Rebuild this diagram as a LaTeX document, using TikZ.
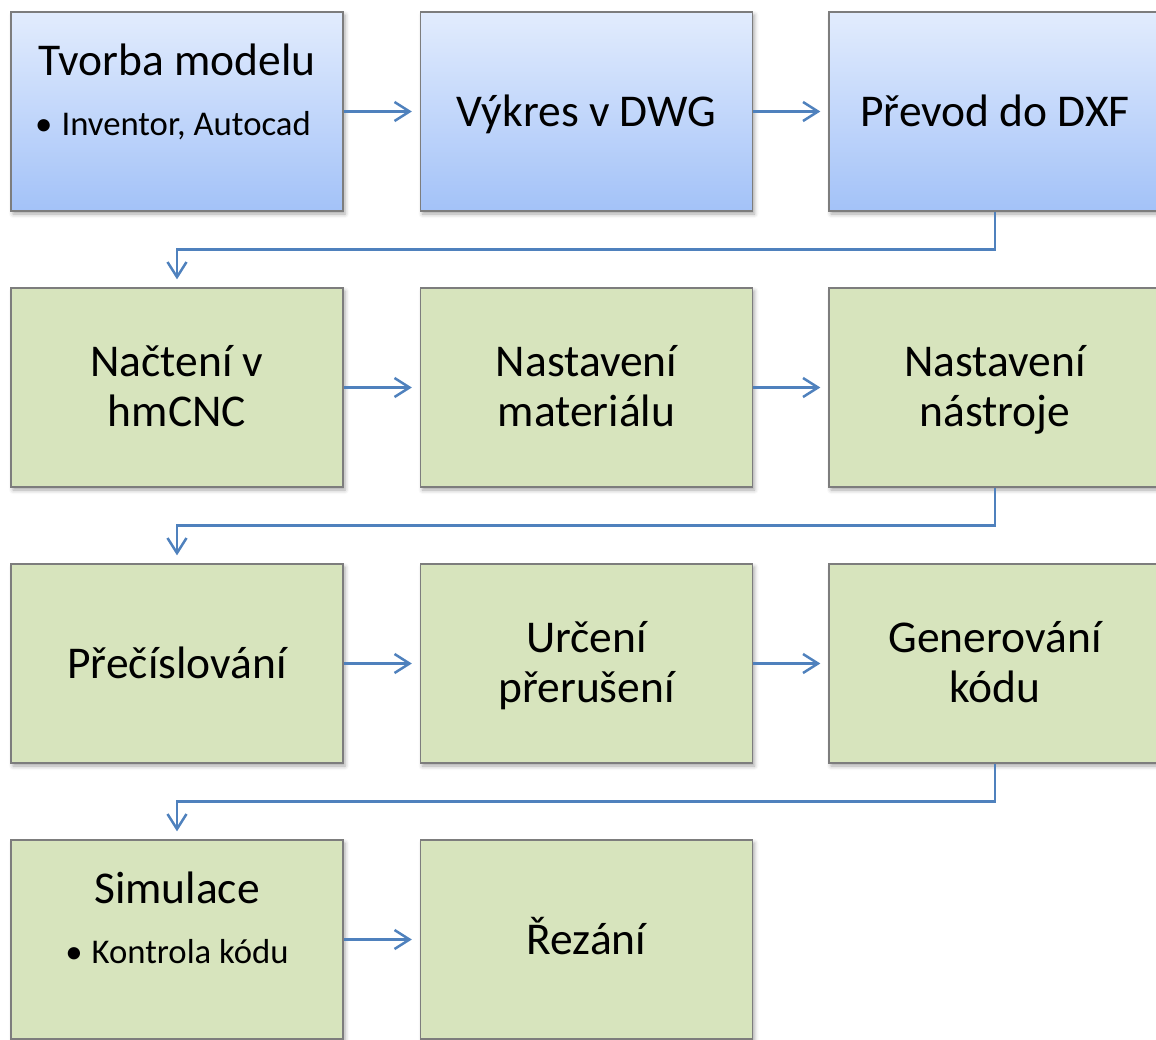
\documentclass[tikz,border=0pt]{standalone}
\usepackage{fontspec}
\setmainfont{Carlito}
\usetikzlibrary{arrows.meta,shadows.blur,calc}
\definecolor{linkblue}{RGB}{79,129,189}
\definecolor{edgegray}{RGB}{125,125,125}
\definecolor{greenfill}{RGB}{215,228,189}
\definecolor{bluetop}{RGB}{226,236,253}
\definecolor{bluebot}{RGB}{163,194,248}
\newcommand\olinetxt[1]{\rule[-12pt]{0pt}{54pt}#1}
\newcommand\tlinetxt[2]{\rule{0pt}{40pt}#1\\#2\rule[-13pt]{0pt}{13pt}}
\begin{document}
\begin{tikzpicture}[x=1pt,y=-1pt,
  box/.style={draw=edgegray, line width=1.3pt, minimum width=332pt, minimum height=199pt,
    inner sep=0pt, align=center, font=\fontsize{45.5}{50}\selectfont,
    blur shadow={shadow xshift=2pt,shadow yshift=-3pt,shadow blur radius=4pt,shadow opacity=35}},
  bluebox/.style={box, top color=bluetop, bottom color=bluebot},
  greenbox/.style={box, fill=greenfill},
  titletxt/.style={anchor=base, inner sep=0pt, font=\fontsize{45.5}{50}\selectfont},
  bullettxt/.style={anchor=base, inner sep=0pt, font=\fontsize{34.7}{40}\selectfont},
  conn/.style={draw=linkblue, line width=2.5pt,
    -{Straight Barb[length=15pt,width=19pt]}, shorten >=8pt}]
\clip (0,0) rectangle (1156,1039);
% row 1
\node[bluebox] (b1) at (177,111.5) {};
\node[bluebox] (b2) at (586.5,111.5) {\olinetxt{Výkres v DWG}};
\node[bluebox] (b3) at (995,111.5) {\olinetxt{Převod do DXF}};
\node[titletxt] (t1) at ($(b1.center)+(0,-36.5)$) {Tvorba modelu};
\node[bullettxt] (s1) at ($(b1.center)+(-4,23.5)$) {\textbullet\hspace{9pt}Inventor, Autocad};
% row 2
\node[greenbox] (c1) at (177,387.5) {\tlinetxt{Načtení v}{hmCNC}};
\node[greenbox] (c2) at (586.5,387.5) {\tlinetxt{Nastavení}{materiálu}};
\node[greenbox] (c3) at (995,387.5) {\tlinetxt{Nastavení}{nástroje}};
% row 3
\node[greenbox] (d1) at (177,663.5) {\olinetxt{Přečíslování}};
\node[greenbox] (d2) at (586.5,663.5) {\tlinetxt{Určení}{přerušení}};
\node[greenbox] (d3) at (995,663.5) {\tlinetxt{Generování}{kódu}};
% row 4
\node[greenbox] (e1) at (177,939.5) {};
\node[greenbox] (e2) at (586.5,939.5) {\olinetxt{Řezání}};
\node[titletxt] (t4) at ($(e1.center)+(0,-36.5)$) {Simulace};
\node[bullettxt] (s4) at ($(e1.center)+(0,23.5)$) {\textbullet\hspace{9pt}Kontrola kódu};
% connectors
\draw[conn] (b1.east) -- (b2.west);
\draw[conn] (b2.east) -- (b3.west);
\draw[conn] (b3.south) -- ++(0,38) -| (c1.north);
\draw[conn] (c1.east) -- (c2.west);
\draw[conn] (c2.east) -- (c3.west);
\draw[conn] (c3.south) -- ++(0,38) -| (d1.north);
\draw[conn] (d1.east) -- (d2.west);
\draw[conn] (d2.east) -- (d3.west);
\draw[conn] (d3.south) -- ++(0,38) -| (e1.north);
\draw[conn] (e1.east) -- (e2.west);
\end{tikzpicture}
\end{document}
